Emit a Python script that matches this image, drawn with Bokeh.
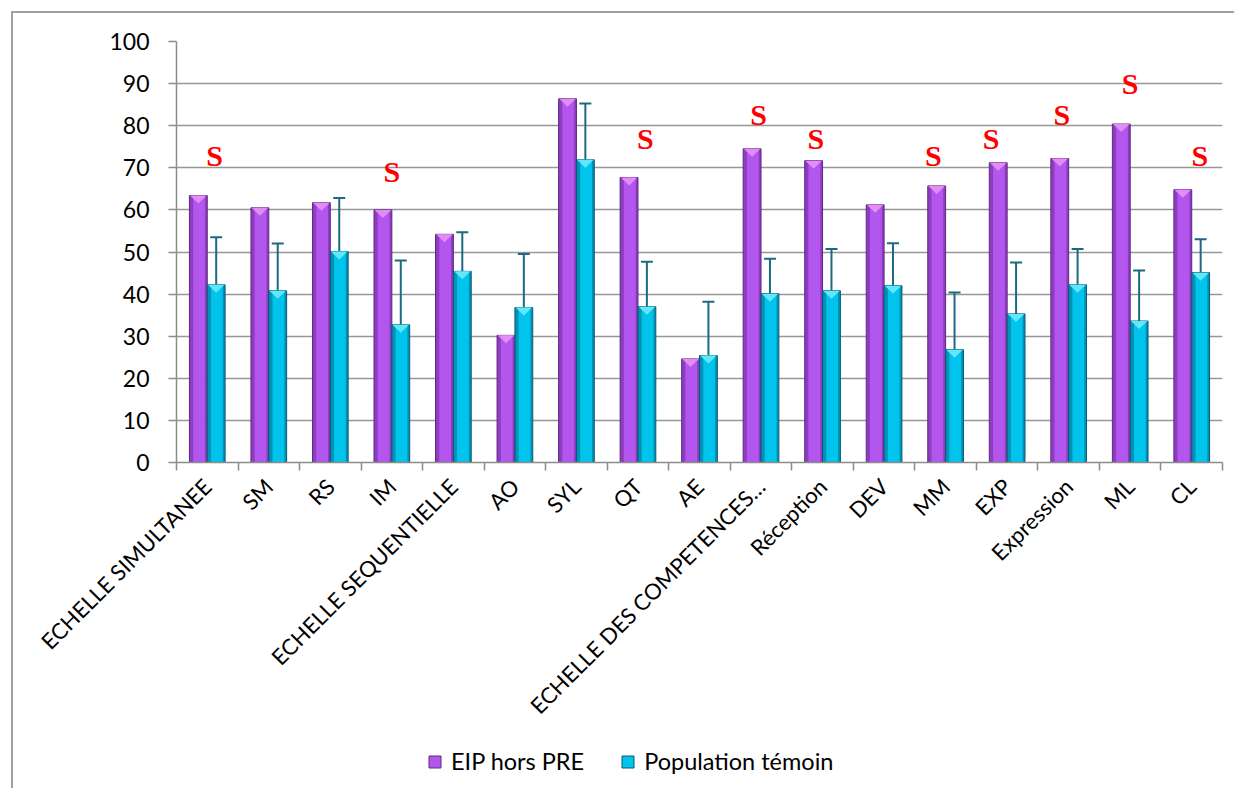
import math
from bokeh.plotting import figure
from bokeh.layouts import column
from bokeh.models import (Range1d, LinearAxis, FixedTicker, ColumnDataSource, Whisker, TeeHead,
                          Legend, LegendItem)
from bokeh.core.properties import value
from bokeh.embed import file_html
from bokeh.resources import INLINE

# ---------------- data ----------------
categories = ["ECHELLE SIMULTANEE", "SM", "RS", "IM", "ECHELLE SEQUENTIELLE", "AO", "SYL", "QT", "AE",
              "ECHELLE DES COMPETENCES\u2026", "R\u00e9ception", "DEV", "MM", "EXP", "Expression", "ML", "CL"]
eip_hors_pre = [63.4, 60.5, 61.7, 60.0, 54.2, 30.2, 86.4, 67.7, 24.6, 74.5, 71.7, 61.2, 65.7, 71.2, 72.2, 80.4, 64.8]
population_temoin = [42.2, 40.8, 50.1, 32.7, 45.4, 36.8, 71.9, 37.0, 25.4, 40.1, 40.8, 42.0, 26.8, 35.3, 42.2, 33.6, 45.1]
temoin_sd = [11.3, 11.2, 12.7, 15.3, 9.3, 12.7, 13.4, 10.7, 12.8, 8.3, 9.9, 10.1, 13.6, 12.2, 8.5, 12.0, 7.9]
sig_categories = ["ECHELLE SIMULTANEE", "IM", "QT", "ECHELLE DES COMPETENCES\u2026", "R\u00e9ception",
                  "MM", "EXP", "Expression", "ML", "CL"]
sig_y = [72.9, 69.1, 77.0, 82.6, 77.0, 72.9, 77.0, 82.6, 90.0, 72.9]
sig_dx = [0.12, 0.0, 0.12, -0.04, -0.11, -0.2, -0.26, -0.11, 0.0, 0.13]
series_names = ["EIP hors PRE", "Population t\u00e9moin"]
y_ticks = list(range(0, 101, 10))

# ---------------- style ----------------
FONT = "Lato"
W = 0.29
OFF = 0.145
P_BASE, P_BRIGHT, P_TOP, P_LINE = "#8E3CC2", "#B356EE", "#E48CF5", "#5A2A7C"
C_BASE, C_BRIGHT, C_TOP, C_LINE = "#0092B8", "#00C4EC", "#62E6FA", "#0B5A70"
GRID = "#979797"
AXIS = "#8C8C8C"
ERR = "#1B6A80"

n = len(categories)
idx = list(range(n))

p = figure(width=1221, height=720, x_range=Range1d(-0.5, n - 0.5), y_range=Range1d(0, 100),
           x_axis_location=None, output_backend="svg", toolbar_location=None,
           min_border_left=163, min_border_right=12, min_border_top=28, min_border_bottom=271)
p.outline_line_color = None
p.background_fill_color = "white"
p.border_fill_color = "white"
p.xgrid.visible = False

# y axis & grid
p.yaxis.ticker = FixedTicker(ticks=y_ticks)
p.yaxis.major_tick_in = 0
p.yaxis.major_tick_out = 8
p.yaxis.minor_tick_line_color = None
p.yaxis.axis_line_color = AXIS
p.yaxis.axis_line_width = 1.5
p.yaxis.major_tick_line_color = AXIS
p.yaxis.major_tick_line_width = 1.5
p.yaxis.major_label_text_font = FONT
p.yaxis.major_label_text_font_size = "23px"
p.yaxis.major_label_text_color = "black"
p.yaxis.major_label_standoff = 19
p.ygrid.ticker = FixedTicker(ticks=y_ticks)
p.ygrid.grid_line_color = GRID
p.ygrid.grid_line_width = 1.5

# x axis: labels at category centres, minor ticks at category boundaries
x_axis = LinearAxis(ticker=FixedTicker(ticks=idx, minor_ticks=[i - 0.5 for i in range(n + 1)]),
                    major_label_overrides={i: c for i, c in enumerate(categories)},
                    axis_line_color=AXIS, axis_line_width=1.5,
                    major_tick_line_color=None,
                    minor_tick_line_color=AXIS, minor_tick_line_width=1.5,
                    minor_tick_in=0, minor_tick_out=8,
                    major_label_orientation=math.pi / 4, major_label_text_font=FONT,
                    major_label_text_font_size="22px", major_label_text_color="black",
                    major_label_standoff=12)
p.add_layout(x_axis, "below")

# bars
xp = [i - OFF for i in idx]
xq = [i + OFF for i in idx]
src = ColumnDataSource(dict(xp=xp, xq=xq, eip=eip_hors_pre, tem=population_temoin,
                            xp_b=[x + 0.04 * W for x in xp], xq_b=[x + 0.04 * W for x in xq],
                            up=[m + s for m, s in zip(population_temoin, temoin_sd)],
                            lo=[m - s for m, s in zip(population_temoin, temoin_sd)]))

p.vbar(x="xp", top="eip", bottom=0, width=W, source=src, fill_color=P_BASE, line_color=P_LINE, line_width=1)
p.vbar(x="xp_b", top="eip", bottom=0, width=0.66 * W, source=src, fill_color=P_BRIGHT, line_color=None)
p.vbar(x="xq", top="tem", bottom=0, width=W, source=src, fill_color=C_BASE, line_color=C_LINE, line_width=1)
p.vbar(x="xq_b", top="tem", bottom=0, width=0.66 * W, source=src, fill_color=C_BRIGHT, line_color=None)

# bevel triangles at the bar tops
tri_h = 1.9
def tris(xs, tops):
    xx, yy = [], []
    for x, t in zip(xs, tops):
        xx.append([x - W / 2 + 0.01, x + W / 2 - 0.01, x])
        yy.append([t, t, t - tri_h])
    return xx, yy
txp, typ = tris(xp, eip_hors_pre)
txq, tyq = tris(xq, population_temoin)
p.patches(txp, typ, fill_color=P_TOP, line_color=None)
p.patches(txq, tyq, fill_color=C_TOP, line_color=None)

# error bars
wh = Whisker(base="xq", upper="up", lower="lo", source=src, dimension="height",
             line_color=ERR, line_width=2,
             upper_head=TeeHead(size=12, line_color=ERR, line_width=2),
             lower_head=TeeHead(size=12, line_color=ERR, line_width=2))
p.add_layout(wh)

# significance marks
s_src = ColumnDataSource(dict(x=[categories.index(c) + d for c, d in zip(sig_categories, sig_dx)],
                              y=sig_y, t=["S"] * len(sig_y)))
p.text(x="x", y="y", text="t", source=s_src, text_font=value("Liberation Serif"),
       text_font_style="bold", text_font_size="30px", text_color="#FF0000",
       text_align="center", text_baseline="middle")

# ---------------- legend strip (own small figure; its frame is aligned with the chart's) ----------------
lg = figure(width=1221, height=55, x_range=Range1d(0, 1), y_range=Range1d(0, 1),
            x_axis_location=None, y_axis_location=None, output_backend="svg", toolbar_location=None,
            min_border_left=163, min_border_right=12, min_border_top=0, min_border_bottom=0)
lg.outline_line_color = None
lg.grid.visible = False
lsrc = ColumnDataSource(dict(x=[-5.0], top=[-5.0]))
lr_p = lg.rect(x="x", y="top", width=0.1, height=0.1, source=lsrc, fill_color=P_BRIGHT, line_color=P_LINE)
lr_c = lg.rect(x="x", y="top", width=0.1, height=0.1, source=lsrc, fill_color=C_BRIGHT, line_color=C_LINE)
legend = Legend(items=[LegendItem(label=series_names[0], renderers=[lr_p]),
                       LegendItem(label=series_names[1], renderers=[lr_c])],
                orientation="horizontal", location=(251, 13),
                border_line_color=None, background_fill_alpha=0,
                label_text_font=FONT, label_text_font_size="23.5px", label_text_color="black",
                glyph_width=15, glyph_height=15, label_standoff=9, spacing=36,
                padding=0, margin=0)
lg.add_layout(legend)

layout = column(p, lg, spacing=0,
                styles={"margin-top": "11px", "margin-left": "11px",
                        "border-top": "2px solid #A0A0A0", "border-left": "2px solid #A0A0A0"})

open("out.html", "w").write(file_html(layout, INLINE))
